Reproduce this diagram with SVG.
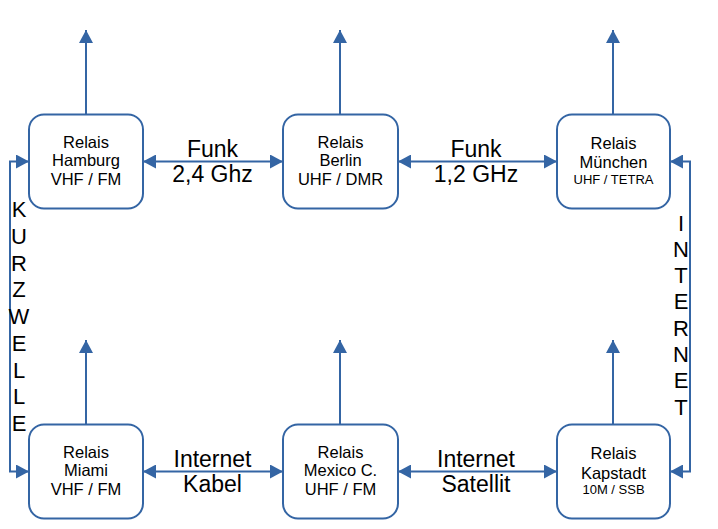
<svg xmlns="http://www.w3.org/2000/svg" width="718" height="529" viewBox="0 0 718 529">
<defs>
<marker id="ah" viewBox="0 0 13 14" refX="13" refY="7" markerWidth="13" markerHeight="14" markerUnits="userSpaceOnUse" orient="auto-start-reverse">
<path d="M0,0 L13,7 L0,14 z" fill="#3465a4"/>
</marker>
<style>
.box{fill:#fff;stroke:#3465a4;stroke-width:2}
.ln{fill:none;stroke:#3465a4;stroke-width:2}
.t{font-family:"Liberation Sans",Arial,sans-serif;font-size:16.5px;fill:#000;text-anchor:middle}
.s{font-size:13px}
.lb{font-family:"Liberation Sans",Arial,sans-serif;font-size:23px;fill:#000;text-anchor:middle}
.v{font-family:"Liberation Sans",Arial,sans-serif;font-size:22px;fill:#000;text-anchor:middle}
</style>
</defs>
<rect width="718" height="529" fill="#fff"/>
<g id="connectors">
<path class="ln" d="M86,114 V30" marker-end="url(#ah)"/>
<path class="ln" d="M340,114 V30" marker-end="url(#ah)"/>
<path class="ln" d="M613,114 V30" marker-end="url(#ah)"/>
<path class="ln" d="M86,424 V340" marker-end="url(#ah)"/>
<path class="ln" d="M340,424 V340" marker-end="url(#ah)"/>
<path class="ln" d="M613,424 V340" marker-end="url(#ah)"/>
<path class="ln" d="M143,161.5 H283" marker-start="url(#ah)" marker-end="url(#ah)"/>
<path class="ln" d="M398,161.5 H557" marker-start="url(#ah)" marker-end="url(#ah)"/>
<path class="ln" d="M143,471.5 H283" marker-start="url(#ah)" marker-end="url(#ah)"/>
<path class="ln" d="M398,471.5 H557" marker-start="url(#ah)" marker-end="url(#ah)"/>
<path class="ln" d="M29,161.5 H10 V471.5 H29" marker-start="url(#ah)" marker-end="url(#ah)"/>
<path class="ln" d="M670,161.5 H690 V471.5 H670" marker-start="url(#ah)" marker-end="url(#ah)"/>
</g>
<g id="labels">
<text class="lb" x="212.5" y="157">Funk</text>
<text class="lb" x="212.5" y="182">2,4 Ghz</text>
<text class="lb" x="476" y="157">Funk</text>
<text class="lb" x="476" y="182">1,2 GHz</text>
<text class="lb" x="212.5" y="467">Internet</text>
<text class="lb" x="212.5" y="492">Kabel</text>
<text class="lb" x="476" y="467">Internet</text>
<text class="lb" x="476" y="492">Satellit</text>
<text class="v" x="19" y="217">K</text>
<text class="v" x="19" y="243.7">U</text>
<text class="v" x="19" y="270.5">R</text>
<text class="v" x="19" y="297.2">Z</text>
<text class="v" x="19" y="324">W</text>
<text class="v" x="19" y="350.7">E</text>
<text class="v" x="19" y="377.5">L</text>
<text class="v" x="19" y="404.2">L</text>
<text class="v" x="19" y="431">E</text>
<text class="v" x="681" y="230.5">I</text>
<text class="v" x="681" y="256.8">N</text>
<text class="v" x="681" y="283.1">T</text>
<text class="v" x="681" y="309.4">E</text>
<text class="v" x="681" y="335.7">R</text>
<text class="v" x="681" y="362">N</text>
<text class="v" x="681" y="388.3">E</text>
<text class="v" x="681" y="414.6">T</text>
</g>
<g id="hamburg">
<rect class="box" x="29" y="114.5" width="114" height="94" rx="15"/>
<text class="t" x="86" y="147.5">Relais</text>
<text class="t" x="86" y="166">Hamburg</text>
<text class="t" x="86" y="185">VHF / FM</text>
</g>
<g id="berlin">
<rect class="box" x="283" y="114.5" width="115" height="94" rx="15"/>
<text class="t" x="340.5" y="147.5">Relais</text>
<text class="t" x="340.5" y="166">Berlin</text>
<text class="t" x="340.5" y="185">UHF / DMR</text>
</g>
<g id="muenchen">
<rect class="box" x="557" y="114.5" width="113" height="94" rx="15"/>
<text class="t" x="613.5" y="149">Relais</text>
<text class="t" x="613.5" y="168">München</text>
<text class="t s" x="613.5" y="183.5">UHF / TETRA</text>
</g>
<g id="miami">
<rect class="box" x="29" y="424.5" width="114" height="94" rx="15"/>
<text class="t" x="86" y="457.5">Relais</text>
<text class="t" x="86" y="476">Miami</text>
<text class="t" x="86" y="495">VHF / FM</text>
</g>
<g id="mexico">
<rect class="box" x="283" y="424.5" width="115" height="94" rx="15"/>
<text class="t" x="340.5" y="457.5">Relais</text>
<text class="t" x="340.5" y="476">Mexico C.</text>
<text class="t" x="340.5" y="495">UHF / FM</text>
</g>
<g id="kapstadt">
<rect class="box" x="557" y="424.5" width="113" height="94" rx="15"/>
<text class="t" x="613.5" y="459">Relais</text>
<text class="t" x="613.5" y="479">Kapstadt</text>
<text class="t s" x="613.5" y="494">10M / SSB</text>
</g>
</svg>
